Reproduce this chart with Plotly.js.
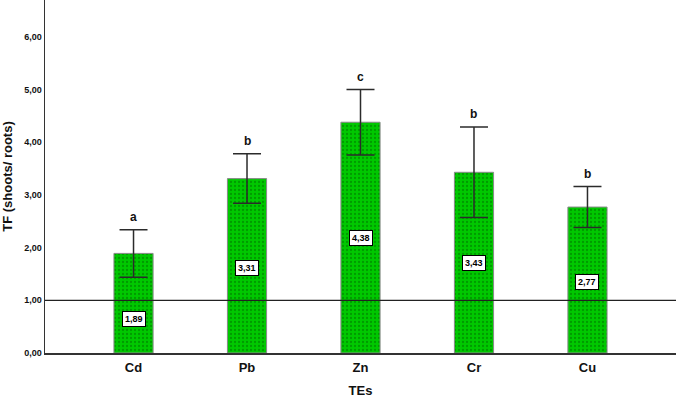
<!DOCTYPE html>
<html>
<head>
<meta charset="utf-8">
<script src="https://cdn.plot.ly/plotly-3.0.1.min.js"></script>
<style>html,body{margin:0;padding:0;background:#fff;}#chart{width:677px;height:398px;}</style>
</head>
<body>
<div id="chart"></div>
<script>
const categories = ["Cd", "Pb", "Zn", "Cr", "Cu"];
const tfValues = [1.89, 3.31, 4.38, 3.43, 2.77];
const errValues = [0.45, 0.47, 0.62, 0.86, 0.39];
const groupLetters = ["a", "b", "c", "b", "b"];
const labelPositions = [0.65, 1.61, 2.18, 1.71, 1.35];
const referenceValue = 1.0;

const fmt = v => v.toFixed(2).replace(".", ",");

const bars = {
  type: "bar",
  x: categories,
  y: tfValues,
  width: 0.345,
  marker: {
    color: "#00C800",
    line: { color: "#8a8a8a", width: 1 },
    pattern: { shape: ".", fgcolor: "#009a00", bgcolor: "#00C800", size: 4, solidity: 0.25 }
  },
  error_y: { type: "data", array: errValues, visible: true, color: "#2b2b2b", thickness: 1.5, width: 14 },
  hoverinfo: "skip",
  showlegend: false
};

const annotations = [];
categories.forEach((c, i) => {
  annotations.push({
    x: c, y: tfValues[i] + errValues[i], xref: "x", yref: "y",
    text: "<b>" + groupLetters[i] + "</b>", showarrow: false,
    yshift: 13, font: { family: "Liberation Sans, Arial", size: 12, color: "#111" }
  });
  annotations.push({
    x: c, y: labelPositions[i], xref: "x", yref: "y",
    text: "<b>" + fmt(tfValues[i]) + "</b>", showarrow: false,
    bgcolor: "#ffffff", bordercolor: "#000", borderwidth: 1, borderpad: 2,
    font: { family: "Liberation Sans, Arial", size: 9, color: "#000" }
  });
});

const layout = {
  width: 677, height: 398,
  margin: { l: 45, r: 1, t: 0, b: 45 },
  paper_bgcolor: "#fff", plot_bgcolor: "#fff",
  separators: ", ",
  font: { family: "Liberation Sans, Arial", color: "#111" },
  xaxis: {
    type: "category",
    range: [-0.78, 4.78],
    showline: true, linecolor: "#333", linewidth: 1.5,
    showgrid: false, zeroline: false, ticks: "",
    tickfont: { family: "Liberation Sans, Arial", size: 13, weight: "bold" },
    ticklabelstandoff: 2,
    title: { text: "<b>TEs</b>", font: { family: "Liberation Sans, Arial", size: 13 }, standoff: 13 }
  },
  yaxis: {
    range: [0, 6.7],
    tickvals: [0, 1, 2, 3, 4, 5, 6],
    tickformat: ".2f",
    showline: true, linecolor: "#333", linewidth: 1.5,
    showgrid: false, zeroline: false, ticks: "",
    tickfont: { family: "Liberation Sans, Arial", size: 9, weight: "bold" },
    title: { text: "<b>TF (shoots/ roots)</b>", font: { family: "Liberation Sans, Arial", size: 13 }, standoff: 9 }
  },
  shapes: [{
    type: "line", xref: "paper", yref: "y", x0: 0, x1: 1,
    y0: referenceValue, y1: referenceValue,
    line: { color: "#222", width: 1.3 }, layer: "above"
  }],
  annotations: annotations
};

Plotly.newPlot("chart", [bars], layout, { displayModeBar: false, staticPlot: true });
</script>
</body>
</html>
